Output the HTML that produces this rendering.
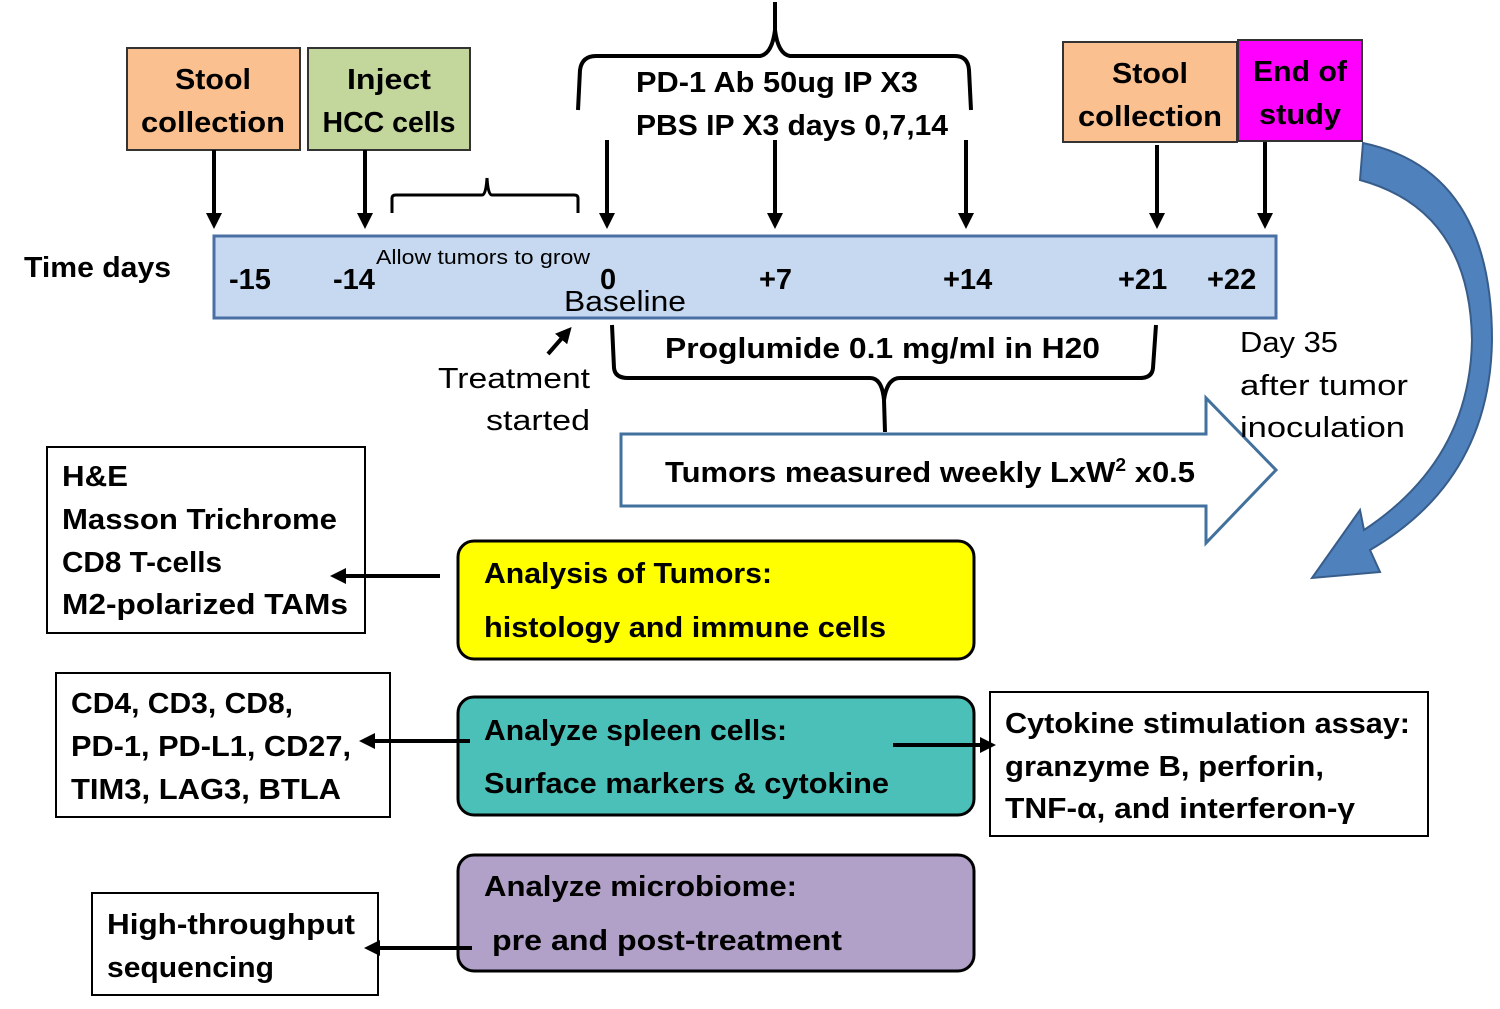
<!DOCTYPE html>
<html><head><meta charset="utf-8"><style>
html,body{margin:0;padding:0;background:#fff;}
svg{display:block;}
text{font-family:"Liberation Sans",sans-serif;fill:#000;}
.b{font-weight:bold;font-size:29px;}
.n{font-size:29px;}
</style></head><body>
<svg width="1500" height="1009" viewBox="0 0 1500 1009" xmlns="http://www.w3.org/2000/svg">
<defs>
<marker id="ah" markerWidth="4" markerHeight="4" refX="3" refY="2" orient="auto" markerUnits="strokeWidth"><path d="M0,0 L4,2 L0,4 Z" fill="#000"/></marker>
</defs>
<g lengthAdjust="spacingAndGlyphs">
<!-- top boxes -->
<rect x="127" y="48" width="173" height="102" fill="#fac090" stroke="#333" stroke-width="2"/>
<text class="b" x="213" y="89" text-anchor="middle" textLength="76" lengthAdjust="spacingAndGlyphs">Stool</text>
<text class="b" x="213" y="132" text-anchor="middle" textLength="144" lengthAdjust="spacingAndGlyphs">collection</text>
<rect x="308" y="48" width="162" height="102" fill="#c3d69b" stroke="#333" stroke-width="2"/>
<text class="b" x="389" y="89" text-anchor="middle" textLength="84" lengthAdjust="spacingAndGlyphs">Inject</text>
<text class="b" x="389" y="132" text-anchor="middle" textLength="133" lengthAdjust="spacingAndGlyphs">HCC cells</text>
<rect x="1063" y="42" width="174" height="100" fill="#fac090" stroke="#333" stroke-width="2"/>
<text class="b" x="1150" y="83" text-anchor="middle" textLength="76" lengthAdjust="spacingAndGlyphs">Stool</text>
<text class="b" x="1150" y="126" text-anchor="middle" textLength="144" lengthAdjust="spacingAndGlyphs">collection</text>
<rect x="1238" y="40" width="124" height="101" fill="#ff00ff" stroke="#333" stroke-width="2"/>
<text class="b" x="1300" y="81" text-anchor="middle" textLength="94" lengthAdjust="spacingAndGlyphs">End of</text>
<text class="b" x="1300" y="124" text-anchor="middle" textLength="82" lengthAdjust="spacingAndGlyphs">study</text>
<!-- timeline -->
<rect x="214" y="236" width="1062" height="82" fill="#c6d9f0" stroke="#4a6fa5" stroke-width="3"/>
<!-- braces -->
<g fill="none" stroke="#000" stroke-width="4">
<path d="M578,110 L580,70 Q582,56 596,56 L760,56 Q772,54 775,30 L775,2 M775,30 Q778,54 790,56 L955,56 Q968,56 969,70 L971,110"/>
<path d="M392,213 L392,198 Q392,195 396,195 L482,195 Q486,195 487,178 M487,178 Q488,195 492,195 L574,195 Q578,195 578,198 L578,213" stroke-width="3"/>
<path d="M612,325 L614,368 Q615,378 628,378 L870,378 Q882,378 884,400 L885,432 M884,400 Q887,378 900,378 L1140,378 Q1152,378 1153,368 L1156,325"/>
</g>
<text class="b" x="636" y="92" textLength="282" lengthAdjust="spacingAndGlyphs">PD-1 Ab 50ug IP X3</text>
<text class="b" x="636" y="135" textLength="312" lengthAdjust="spacingAndGlyphs">PBS IP X3 days 0,7,14</text>
<text class="b" x="24" y="277" textLength="147" lengthAdjust="spacingAndGlyphs">Time days</text>
<g class="b">
<text x="229" y="289">-15</text><text x="333" y="289">-14</text><text x="600" y="289">0</text>
<text x="759" y="289">+7</text><text x="943" y="289">+14</text><text x="1118" y="289">+21</text><text x="1207" y="289">+22</text>
</g>
<text x="376" y="264" font-size="20" textLength="214" lengthAdjust="spacingAndGlyphs">Allow tumors to grow</text>
<text class="n" x="564" y="311" textLength="122" lengthAdjust="spacingAndGlyphs">Baseline</text>
<text class="n" x="590" y="388" text-anchor="end" textLength="152" lengthAdjust="spacingAndGlyphs">Treatment</text>
<text class="n" x="590" y="430" text-anchor="end" textLength="104" lengthAdjust="spacingAndGlyphs">started</text>
<text class="b" x="665" y="358" textLength="435" lengthAdjust="spacingAndGlyphs">Proglumide 0.1 mg/ml in H20</text>
<!-- big arrow -->
<path d="M621,434 L1206,434 L1206,398 L1276,470 L1206,543 L1206,506 L621,506 Z" fill="#fff" stroke="#41719c" stroke-width="3"/>
<text class="b" x="665" y="482" textLength="530" lengthAdjust="spacingAndGlyphs">Tumors measured weekly LxW<tspan font-size="18" dy="-11">2</tspan><tspan dy="11"> x0.5</tspan></text>
<text class="n" x="1240" y="352" textLength="98" lengthAdjust="spacingAndGlyphs">Day 35</text>
<text class="n" x="1240" y="395" textLength="168" lengthAdjust="spacingAndGlyphs">after tumor</text>
<text class="n" x="1240" y="437" textLength="165" lengthAdjust="spacingAndGlyphs">inoculation</text>
<!-- curved arrow -->
<path d="M1363,143 Q1492,170 1492,340 Q1490,480 1370,550 L1380,572 L1312,578 L1360,510 L1364,530 Q1470,460 1472,340 Q1470,210 1360,180 Z" fill="#4f81bd" stroke="#385d8a" stroke-width="2"/>
<!-- bottom boxes -->
<rect x="47" y="447" width="318" height="186" fill="#fff" stroke="#000" stroke-width="2"/>
<text class="b" x="62" y="486" textLength="66" lengthAdjust="spacingAndGlyphs">H&amp;E</text>
<text class="b" x="62" y="529" textLength="275" lengthAdjust="spacingAndGlyphs">Masson Trichrome</text>
<text class="b" x="62" y="572" textLength="160" lengthAdjust="spacingAndGlyphs">CD8 T-cells</text>
<text class="b" x="62" y="614" textLength="286" lengthAdjust="spacingAndGlyphs">M2-polarized TAMs</text>
<rect x="458" y="541" width="516" height="118" rx="16" fill="#ffff00" stroke="#000" stroke-width="3"/>
<text class="b" x="484" y="583" textLength="288" lengthAdjust="spacingAndGlyphs">Analysis of Tumors:</text>
<text class="b" x="484" y="637" textLength="402" lengthAdjust="spacingAndGlyphs">histology and immune cells</text>
<rect x="56" y="673" width="334" height="144" fill="#fff" stroke="#000" stroke-width="2"/>
<text class="b" x="71" y="713" textLength="222" lengthAdjust="spacingAndGlyphs">CD4, CD3, CD8,</text>
<text class="b" x="71" y="756" textLength="280" lengthAdjust="spacingAndGlyphs">PD-1, PD-L1, CD27,</text>
<text class="b" x="71" y="799" textLength="270" lengthAdjust="spacingAndGlyphs">TIM3,  LAG3, BTLA</text>
<rect x="458" y="697" width="516" height="118" rx="16" fill="#4bc0b9" stroke="#000" stroke-width="3"/>
<text class="b" x="484" y="740" textLength="303" lengthAdjust="spacingAndGlyphs">Analyze spleen cells:</text>
<text class="b" x="484" y="793" textLength="405" lengthAdjust="spacingAndGlyphs">Surface markers &amp; cytokine</text>
<rect x="990" y="692" width="438" height="144" fill="#fff" stroke="#000" stroke-width="2"/>
<text class="b" x="1005" y="733" textLength="405" lengthAdjust="spacingAndGlyphs">Cytokine stimulation assay:</text>
<text class="b" x="1005" y="776" textLength="319" lengthAdjust="spacingAndGlyphs">granzyme B, perforin,</text>
<text class="b" x="1005" y="818" textLength="350" lengthAdjust="spacingAndGlyphs">TNF-α, and interferon-γ</text>
<rect x="458" y="855" width="516" height="116" rx="16" fill="#b1a0c7" stroke="#000" stroke-width="3"/>
<text class="b" x="484" y="896" textLength="313" lengthAdjust="spacingAndGlyphs">Analyze microbiome:</text>
<text class="b" x="492" y="950" textLength="350" lengthAdjust="spacingAndGlyphs">pre and post-treatment</text>
<rect x="92" y="893" width="286" height="102" fill="#fff" stroke="#000" stroke-width="2"/>
<text class="b" x="107" y="934" textLength="248" lengthAdjust="spacingAndGlyphs">High-throughput</text>
<text class="b" x="107" y="977" textLength="167" lengthAdjust="spacingAndGlyphs">sequencing</text>
</g>
<!-- arrows on top -->
<g stroke="#000" stroke-width="4" marker-end="url(#ah)">
<line x1="214" y1="150" x2="214" y2="225"/>
<line x1="365" y1="150" x2="365" y2="225"/>
<line x1="607" y1="140" x2="607" y2="225"/>
<line x1="775" y1="140" x2="775" y2="225"/>
<line x1="966" y1="140" x2="966" y2="225"/>
<line x1="1157" y1="145" x2="1157" y2="225"/>
<line x1="1265" y1="142" x2="1265" y2="225"/>
<line x1="548" y1="354" x2="569" y2="330"/>
<line x1="440" y1="576" x2="334" y2="576"/>
<line x1="470" y1="741" x2="363" y2="741"/>
<line x1="893" y1="745" x2="992" y2="745"/>
<line x1="472" y1="948" x2="368" y2="948"/>
</g>
</svg>
</body></html>
